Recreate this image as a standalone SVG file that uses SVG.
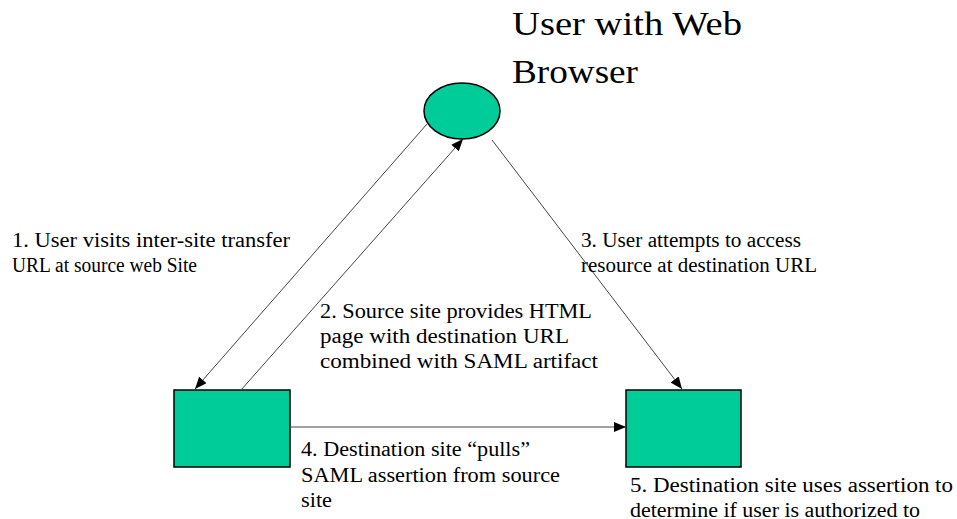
<svg xmlns="http://www.w3.org/2000/svg" width="957" height="519" viewBox="0 0 957 519">
<style>
.node{fill:#00CC99;stroke:#000;stroke-width:1.5}
.conn{stroke:#444;stroke-width:1;fill:none;marker-end:url(#ah)}
.t{font-size:20px;fill:#000}
.title{font-size:34px;fill:#000}
</style>
<defs>
<marker id="ah" viewBox="0 0 12 10" refX="12" refY="5" markerWidth="12" markerHeight="10" markerUnits="userSpaceOnUse" orient="auto">
<path d="M0,0 L12,5 L0,10 Z" fill="#000"/>
</marker>
</defs>
<rect width="957" height="519" fill="#fff"/>
<g id="user" font-family="Liberation Serif, Times New Roman, DejaVu Serif, serif">
<ellipse class="node" cx="462" cy="111" rx="38" ry="28"/>
<text class="title" x="512" y="35" textLength="230" lengthAdjust="spacingAndGlyphs">User with Web</text>
<text class="title" x="512" y="83" textLength="126" lengthAdjust="spacingAndGlyphs">Browser</text>
</g>
<g id="source">
<rect class="node" x="174" y="390" width="116" height="77"/>
</g>
<g id="destination">
<rect class="node" x="626" y="390" width="115" height="77"/>
</g>
<g id="connectors">
<line class="conn" x1="427" y1="124" x2="195" y2="389"/>
<line class="conn" x1="241" y1="390" x2="463" y2="139"/>
<line class="conn" x1="492" y1="140" x2="682" y2="389"/>
<line class="conn" x1="290" y1="427" x2="626" y2="427"/>
</g>
<g id="labels" font-family="Liberation Serif, Times New Roman, DejaVu Serif, serif">
<text class="t" x="12" y="247" textLength="278" lengthAdjust="spacingAndGlyphs">1. User visits inter-site transfer</text>
<text class="t" x="12" y="272" textLength="185" lengthAdjust="spacingAndGlyphs">URL at source web Site</text>
<text class="t" x="320" y="318" textLength="272" lengthAdjust="spacingAndGlyphs">2. Source site provides HTML</text>
<text class="t" x="320" y="343" textLength="249" lengthAdjust="spacingAndGlyphs">page with destination URL</text>
<text class="t" x="320" y="368" textLength="278" lengthAdjust="spacingAndGlyphs">combined with SAML artifact</text>
<text class="t" x="581" y="247" textLength="220" lengthAdjust="spacingAndGlyphs">3. User attempts to access</text>
<text class="t" x="581" y="272" textLength="236" lengthAdjust="spacingAndGlyphs">resource at destination URL</text>
<text class="t" x="301" y="456" textLength="229" lengthAdjust="spacingAndGlyphs">4. Destination site “pulls”</text>
<text class="t" x="301" y="482" textLength="259" lengthAdjust="spacingAndGlyphs">SAML assertion from source</text>
<text class="t" x="301" y="507" textLength="31" lengthAdjust="spacingAndGlyphs">site</text>
<text class="t" x="630" y="492" textLength="323" lengthAdjust="spacingAndGlyphs">5. Destination site uses assertion to</text>
<text class="t" x="630" y="517" textLength="290" lengthAdjust="spacingAndGlyphs">determine if user is authorized to</text>
</g>
</svg>
